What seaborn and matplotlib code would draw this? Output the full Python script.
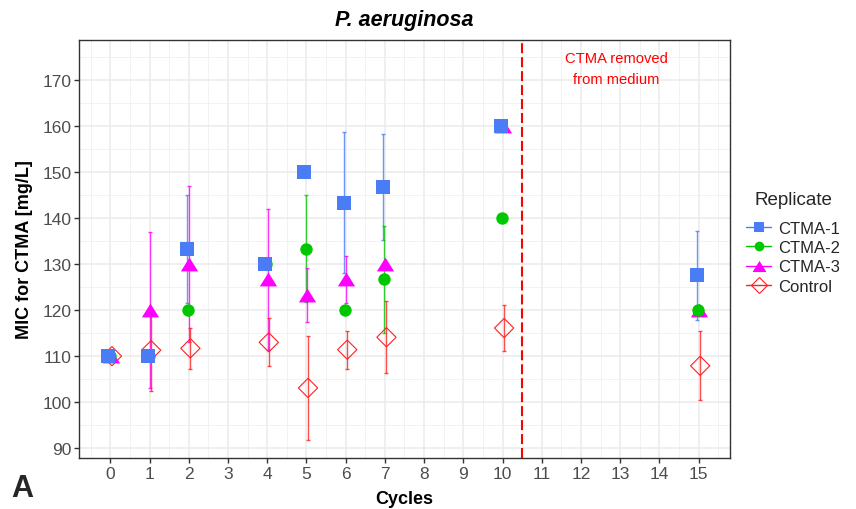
import numpy as np
import pandas as pd
import matplotlib
matplotlib.use("Agg")
import matplotlib.pyplot as plt
import seaborn as sns
from matplotlib.lines import Line2D
from matplotlib.ticker import MultipleLocator

# ---------------- data ----------------
cycles = [0, 1, 2, 4, 5, 6, 7, 10, 15]
ctma1_mean = [110, 110, 133.3, 130, 150, 143.3, 146.7, 160, 127.5]
ctma1_sd = [0, 0, 11.7, 0, 0, 15.3, 11.6, 0, 9.6]
ctma2_mean = [110, 110, 120, 130, 133.3, 120, 126.7, 140, 120]
ctma2_sd = [0, 0, 0, 0, 11.6, 0, 11.6, 0, 0]
ctma3_mean = [110, 120, 130, 126.7, 123.3, 126.7, 130, 160, 120]
ctma3_sd = [0, 17, 17, 15.3, 5.8, 5.1, 0, 0, 0]
control_mean = [110, 111.3, 111.7, 113, 103.1, 111.4, 114.1, 116.1, 107.9]
control_sd = [0, 8.9, 4.4, 5.2, 11.2, 4.1, 7.85, 5.05, 7.5]

series_names = ["CTMA-1", "CTMA-2", "CTMA-3", "Control"]
x_ticks = list(range(0, 16))
y_ticks = [90, 100, 110, 120, 130, 140, 150, 160, 170]
removal_cycle = 10.5
note_text = "CTMA removed\nfrom medium"

# ---------------- style ----------------
colors = {"CTMA-1": "#4A7CF6", "CTMA-2": "#00C800", "CTMA-3": "#FF00FF", "Control": "#FF2020"}
offsets = {"CTMA-1": -0.05, "CTMA-2": -0.02, "CTMA-3": 0.01, "Control": 0.04}
tri = [(-1, -0.8), (1, -0.8), (0, 0.8)]
markers = {"CTMA-1": "s", "CTMA-2": "o", "CTMA-3": tri, "Control": "D"}
sizes = {"CTMA-1": 88, "CTMA-2": 80, "CTMA-3": 155, "Control": 96}

means = {"CTMA-1": ctma1_mean, "CTMA-2": ctma2_mean, "CTMA-3": ctma3_mean, "Control": control_mean}
sds = {"CTMA-1": ctma1_sd, "CTMA-2": ctma2_sd, "CTMA-3": ctma3_sd, "Control": control_sd}

frames = []
for name in series_names:
    frames.append(pd.DataFrame({
        "Cycle": cycles,
        "MIC": means[name],
        "SD": sds[name],
        "Replicate": name,
    }))
df = pd.concat(frames, ignore_index=True)
df["xpos"] = df["Cycle"] + df["Replicate"].map(offsets)

sns.set_theme(style="white")
plt.rcParams["font.family"] = ["Liberation Sans", "DejaVu Sans"]

fig = plt.figure(figsize=(8.56, 5.10), dpi=100)
ax = fig.add_axes([79 / 856, 1 - 459 / 510, (730 - 79) / 856, (459 - 41) / 510])

# grid
ax.set_axisbelow(True)
ax.xaxis.set_major_locator(MultipleLocator(1))
ax.xaxis.set_minor_locator(MultipleLocator(0.5))
ax.yaxis.set_major_locator(MultipleLocator(10))
ax.yaxis.set_minor_locator(MultipleLocator(5))
ax.grid(which="major", color="#EBEBEB", lw=1.1)
ax.grid(which="minor", color="#F0F0F0", lw=0.6)

# error bars
for name in series_names:
    sub = df[(df["Replicate"] == name) & (df["SD"] > 0)]
    ax.errorbar(sub["xpos"], sub["MIC"], yerr=sub["SD"], fmt="none",
                ecolor=colors[name], elinewidth=1.0, capsize=1.6, capthick=1.0,
                alpha=0.8, zorder=2)

# points (control first, CTMA-1 on top)
for name in ["Control", "CTMA-3", "CTMA-2", "CTMA-1"]:
    sub = df[df["Replicate"] == name]
    if name == "Control":
        sns.scatterplot(data=sub, x="xpos", y="MIC", marker=markers[name], s=sizes[name],
                        facecolors="none", edgecolor=colors[name], linewidth=0.8,
                        ax=ax, zorder=3, legend=False)
    else:
        sns.scatterplot(data=sub, x="xpos", y="MIC", marker=markers[name], s=sizes[name],
                        color=colors[name], linewidth=0, ax=ax, zorder=3, legend=False)

ax.axvline(removal_cycle, color="#FF0000", ls=(0, (4.8, 1.9)), lw=1.5, zorder=2.5)
ax.text(12.9, 172.4, note_text, color="#FF0000", ha="center", va="center",
        fontsize=10.6, linespacing=1.6)

ax.set_xlim(-0.8, 15.8)
ax.set_ylim(87.9, 178.6)
ax.set_xticks(x_ticks)
ax.set_yticks(y_ticks)
ax.tick_params(axis="both", which="major", length=3.5, width=1, color="#333333",
               labelcolor="#4D4D4D", labelsize=12.5, pad=2, bottom=True, left=True)
ax.tick_params(axis="both", which="minor", length=0)
for sp in ax.spines.values():
    sp.set_color("#333333")
    sp.set_linewidth(1.0)

ax.set_xlabel("Cycles", fontsize=13, fontweight="bold", color="black", labelpad=7)
ax.set_ylabel("MIC for CTMA [mg/L]", fontsize=13, fontweight="bold", color="black", labelpad=7)
ax.set_title("P. aeruginosa", fontsize=15.5, fontweight="bold", fontstyle="italic",
             color="black", pad=11)

fig.text(22 / 856, 1 - 489 / 510, "A", fontsize=22, fontweight="bold", ha="center", va="center")

handles = []
for name in series_names:
    if name == "Control":
        h = Line2D([0], [0], color=colors[name], marker="D", markersize=8.5,
                   markerfacecolor="none", markeredgewidth=0.8, lw=1.0)
    elif name == "CTMA-3":
        h = Line2D([0], [0], color=colors[name], marker=tri, markersize=10,
                   markeredgewidth=0, lw=1.0)
    else:
        h = Line2D([0], [0], color=colors[name], marker=markers[name], markersize=7,
                   markeredgewidth=0, lw=1.0)
    handles.append(h)
fig.text(754 / 856, 1 - 201 / 510, "Replicate", fontsize=13.5, ha="left", va="center")
leg = fig.legend(handles, series_names, loc="upper left",
                 bbox_to_anchor=(746 / 856, 1 - 222 / 510), frameon=False,
                 fontsize=12, handlelength=1.5, handletextpad=0.4,
                 labelspacing=0.25, borderaxespad=0, borderpad=0)

fig.savefig("out.png", dpi=100)
